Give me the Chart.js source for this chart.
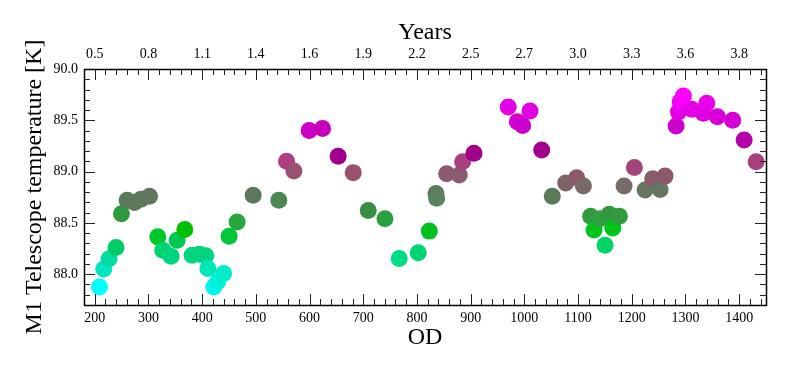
<!DOCTYPE html>
<html>
<head>
<meta charset="utf-8">
<script src="https://cdn.jsdelivr.net/npm/chart.js@4/dist/chart.umd.min.js"></script>
<style>
  html, body { margin: 0; padding: 0; background: #fff; }
  #wrap { width: 789px; height: 375px; }
</style>
</head>
<body>
<div id="wrap"><canvas id="c" width="789" height="375"></canvas></div>
<script>
// ---- Data ----
const od = [208.7, 216.8, 226.7, 239.7, 249.7, 260.3, 274, 286, 302, 317.4, 326.7, 342.2, 353.4, 367.7, 381.3, 395, 406.8, 410.6, 421.7, 429, 440, 450.2, 465.2, 495, 542.8, 557.2, 570.8, 599.3, 624.2, 653.3, 681.3, 709.3, 740.4, 767, 802.4, 823, 835.4, 836.7, 855.3, 878.8, 885, 906.2, 970, 986.9, 996.9, 1010.5, 1032.3, 1052, 1077, 1097.5, 1109.9, 1123.5, 1129.8, 1141, 1150.3, 1158.3, 1164.6, 1176.9, 1185.7, 1204.9, 1224.8, 1239, 1252.8, 1262, 1282.6, 1286.9, 1290, 1296.2, 1311.8, 1333.4, 1339.7, 1359.5, 1388, 1409.3, 1431.6];
const temperature = [87.876, 88.05, 88.15, 88.26, 88.59, 88.72, 88.70, 88.73, 88.76, 88.364, 88.234, 88.176, 88.33, 88.436, 88.185, 88.195, 88.18, 88.055, 87.876, 87.93, 88.007, 88.37, 88.51, 88.77, 88.72, 89.10, 89.005, 89.40, 89.42, 89.15, 88.99, 88.62, 88.54, 88.153, 88.21, 88.42, 88.787, 88.74, 88.98, 88.966, 89.095, 89.18, 89.63, 89.486, 89.45, 89.59, 89.21, 88.76, 88.89, 88.94, 88.86, 88.566, 88.43, 88.54, 88.283, 88.585, 88.45, 88.566, 88.86, 89.04, 88.82, 88.93, 88.826, 88.956, 89.444, 89.58, 89.68, 89.737, 89.607, 89.568, 89.665, 89.535, 89.50, 89.307, 89.096];
const pointColors = ['#00ffff', '#00e6c0', '#00dca0', '#00cc66', '#2e9a3e', '#5a7a5a', '#5e785a', '#5e785a', '#627660', '#00c82a', '#00d46e', '#00d67c', '#00c850', '#00c000', '#00d67e', '#00d67e', '#00d480', '#00e6b8', '#00f8f0', '#00f0e0', '#00ecca', '#00c83a', '#28a83c', '#5a785a', '#4e8654', '#b03c84', '#9a5070', '#cc00c4', '#c800be', '#a0008c', '#9a5070', '#388e42', '#2aa03e', '#00dc84', '#00d470', '#00c21e', '#5e7a5a', '#588260', '#8a5a6e', '#8a5a6e', '#a84080', '#a0008c', '#e600e6', '#d400d4', '#cc00cc', '#e000e0', '#a40090', '#5a7a5a', '#7e6266', '#8a5a6c', '#786a68', '#329a40', '#00c41a', '#30a040', '#00d464', '#32983e', '#00c41a', '#329a40', '#786a68', '#a2467a', '#667660', '#8a5a6c', '#667660', '#8c586c', '#cc00cc', '#e400e4', '#f400f4', '#ff00ff', '#e600e6', '#de00de', '#ea00ea', '#d800d8', '#d400d4', '#b400aa', '#a8407e'];

const odTicks = [200, 300, 400, 500, 600, 700, 800, 900, 1000, 1100, 1200, 1300, 1400];
const odTickLabels = ['200', '300', '400', '500', '600', '700', '800', '900', '1000', '1100', '1200', '1300', '1400'];
const yearTickLabels = ['0.5', '0.8', '1.1', '1.4', '1.6', '1.9', '2.2', '2.5', '2.7', '3.0', '3.3', '3.6', '3.8'];
const tempTicks = [88.0, 88.5, 89.0, 89.5, 90.0];
const tempTickLabels = ['88.0', '88.5', '89.0', '89.5', '90.0'];

const X_MIN = 180, X_MAX = 1450, Y_MIN = 87.7, Y_MAX = 90.0;

// ---- Chart ----
const serif = 'Liberation Serif';
const tickFont = { family: serif, size: 14 };
const titleFont = { family: serif, size: 24 };

const inwardTicks = {
  id: 'inwardTicks',
  afterDraw(chart) {
    const { ctx, chartArea: a } = chart;
    const x = chart.scales.x, y = chart.scales.y;
    ctx.save();
    ctx.strokeStyle = '#222';
    ctx.lineWidth = 1;
    ctx.beginPath();
    for (let v = 200; v <= 1440; v += 20) {
      const px = Math.round(x.getPixelForValue(v)) + 0.5;
      const len = (v % 100 === 0) ? 11 : 6;
      ctx.moveTo(px, a.bottom); ctx.lineTo(px, a.bottom - len);
      ctx.moveTo(px, a.top); ctx.lineTo(px, a.top + len);
    }
    for (let i = 1; i < 23; i++) {
      const v = Y_MIN + i * 0.1;
      const py = Math.round(y.getPixelForValue(v)) + 0.5;
      const major = Math.abs(v * 2 - Math.round(v * 2)) < 1e-6;
      const len = major ? 11 : 6;
      ctx.moveTo(a.left, py); ctx.lineTo(a.left + len, py);
      ctx.moveTo(a.right, py); ctx.lineTo(a.right - len, py);
    }
    ctx.stroke();
    ctx.strokeStyle = '#000';
    ctx.lineWidth = 1.5;
    ctx.strokeRect(Math.round(a.left) + 0.5, Math.round(a.top) + 0.5, Math.round(a.width), Math.round(a.height));
    ctx.restore();
  }
};

new Chart(document.getElementById('c'), {
  type: 'scatter',
  data: {
    datasets: [{
      data: od.map((v, i) => ({ x: v, y: temperature[i] })),
      pointBackgroundColor: pointColors,
      pointBorderColor: pointColors,
      pointBorderWidth: 0,
      pointRadius: 8.5,
      pointHoverRadius: 8.5
    }]
  },
  options: {
    responsive: false,
    animation: false,
    devicePixelRatio: 1,
    layout: { padding: { left: 0, right: 23, top: 0, bottom: 0 } },
    plugins: { legend: { display: false }, tooltip: { enabled: false }, title: { display: false } },
    scales: {
      x: {
        type: 'linear', position: 'bottom', min: X_MIN, max: X_MAX,
        grid: { display: false, drawTicks: false },
        border: { display: false },
        afterBuildTicks(s) { s.ticks = odTicks.map(v => ({ value: v })); },
        afterFit(s) { s.height = 70; },
        ticks: {
          font: tickFont, color: '#000', padding: 5, maxRotation: 0, autoSkip: false,
          callback(v) { const i = odTicks.indexOf(v); return i >= 0 ? odTickLabels[i] : ''; }
        },
        title: { display: true, text: 'OD', font: titleFont, color: '#000', padding: { top: 0, bottom: 23 } }
      },
      x2: {
        type: 'linear', position: 'top', min: X_MIN, max: X_MAX,
        grid: { display: false, drawTicks: false },
        border: { display: false },
        afterBuildTicks(s) { s.ticks = odTicks.map(v => ({ value: v })); },
        afterFit(s) { s.height = 69; },
        ticks: {
          font: tickFont, color: '#000', padding: 6, maxRotation: 0, autoSkip: false,
          callback(v) { const i = odTicks.indexOf(v); return i >= 0 ? yearTickLabels[i] : ''; }
        },
        title: { display: true, text: 'Years', font: titleFont, color: '#000', padding: { top: 18, bottom: 0 } }
      },
      y: {
        type: 'linear', position: 'left', min: Y_MIN, max: Y_MAX,
        grid: { display: false, drawTicks: false },
        border: { display: false },
        afterBuildTicks(s) { s.ticks = tempTicks.map(v => ({ value: v })); },
        afterFit(s) { s.width = 84; },
        ticks: {
          font: tickFont, color: '#000', padding: 6, autoSkip: false,
          callback(v) { const i = tempTicks.findIndex(t => Math.abs(t - v) < 1e-9); return i >= 0 ? tempTickLabels[i] : ''; }
        },
        title: { display: true, text: 'M1 Telescope temperature [K]', font: titleFont, color: '#000', padding: { top: 20, bottom: 0 } }
      }
    }
  },
  plugins: [inwardTicks]
});
</script>
</body>
</html>
